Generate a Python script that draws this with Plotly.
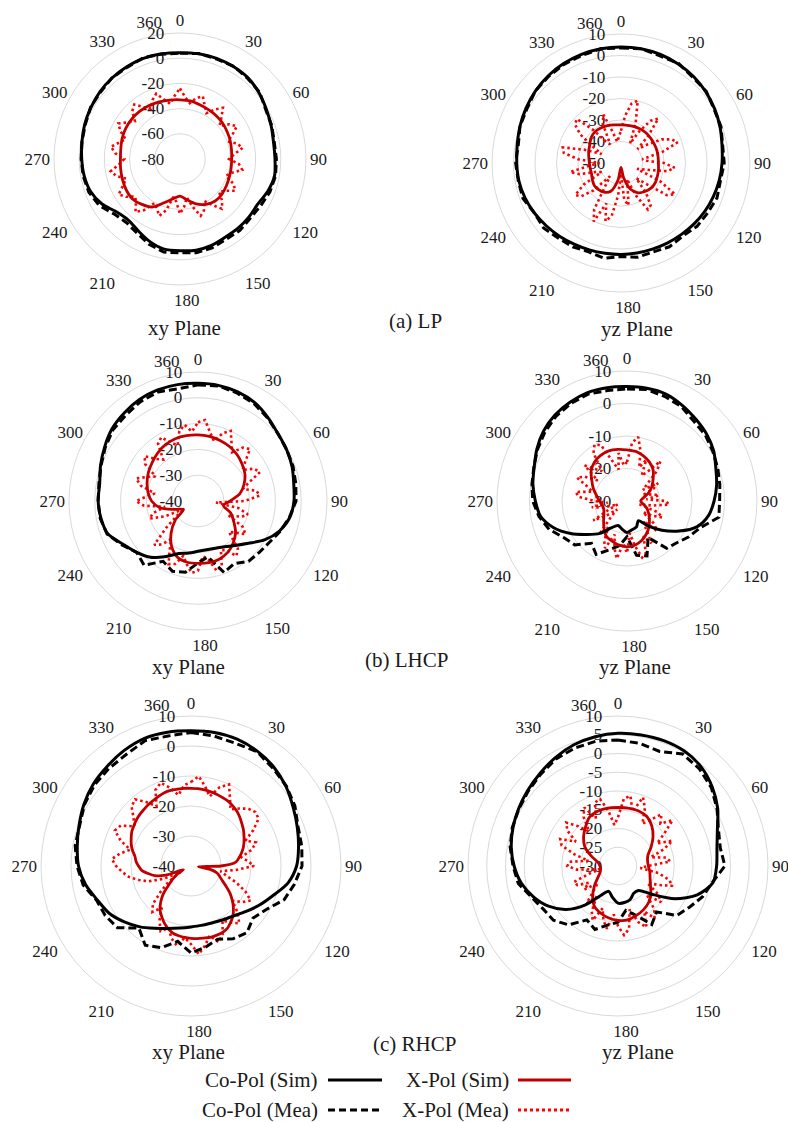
import plotly.graph_objects as go

W, H = 788, 1122
T10 = list(range(0, 360, 10))
T5 = list(range(0, 360, 5))

ANG_TICKS = [0, 30, 60, 90, 120, 150, 177, 210, 240, 270, 300, 330, 352]
ANG_TEXT = ["0", "30", "60", "90", "120", "150", "180", "210", "240", "270", "300", "330", "360"]

# ---------------- (a) LP, xy plane ----------------
A_XY_CO_SIM = [4.4, 4.8, 5, 4.7, 4, 1.8, -0.9, -3, -4.6, -4.6, -3.8, -5.7, -8.6, -8.5, -8.3, -8.3, -7, -6.5,
               -7.2, -7.4, -10.2, -14, -16.5, -14.5, -8.5, -4.5, -2.8, -2, -1, 0.5, 1.7, 3, 3.9, 4.5, 5, 4.8]
A_XY_CO_MEA = [4, 5, 4.5, 5, 3.5, 2.5, -1.5, -2.5, -4, -3.5, -3, -4, -6, -7, -6, -6.5, -5, -4.5,
               -5.5, -5, -8, -12, -14, -12, -6, -3, -2, -1.5, -1, 0, 2, 2.5, 4, 4, 5.5, 4.5]
A_XY_X_SIM = [-33, -33.2, -34.2, -34.8, -35.3, -35.8, -36.8, -37.6, -38.5, -39, -38.8, -38.3, -37.5, -36.5,
              -36.5, -38.5, -42, -47, -50.5, -48, -43, -36, -33, -30.7, -30.8, -31.5, -32.2, -32.7, -32.3,
              -31.2, -30.5, -30.3, -30.5, -31, -31.8, -32.5]
A_XY_X_MEA = [-24, -31, -35, -30, -27, -33.5, -38, -32, -27, -33.5, -39, -32, -28, -34, -39.5, -33, -29.5, -36.8,
              -41, -33, -29.8, -37.5, -41.3, -33, -29.5, -36, -39.5, -32.5, -28.5, -35.5, -41.5, -35, -32, -40.5,
              -49, -42, -36.5, -46, -49.5, -38, -32, -36.5, -39.5, -30.5, -25, -30.5, -33.7, -27.7, -23.8, -30.2,
              -34.5, -27.8, -24.2, -31.5, -35.7, -28.5, -24.3, -29.8, -34.2, -27.8, -23.5, -29.4, -33.3, -26.4,
              -23.5, -29.7, -34, -28.4, -24.8, -31.1, -35.5, -29.8]

# ---------------- (a) LP, yz plane ----------------
A_YZ_CO_SIM = [4, 4, 3.7, 3.2, 2.5, 1.5, 0.3, -1, -2.3, -3, -3.6, -4.3, -5, -5.8, -6.5, -7, -7.4, -7.5,
               -7.5, -7.4, -7, -6.4, -5.5, -4.6, -3.5, -2.5, -1.8, -1.5, -1, 0, 1, 2, 2.8, 3.4, 3.8, 4]
A_YZ_CO_MEA = [3.5, 4, 3, 3.5, 2, 1.8, 0, -0.5, -2, -2, -3, -2.5, -3.5, -4, -5.5, -5, -6, -5.5,
               -6.5, -5, -6, -5, -4.5, -3, -3.5, -1.5, -1.5, -1, -1.5, 0, 0.5, 2, 2.5, 3, 3.2, 4]
A_YZ_X_SIM = [-32.3, -32.2, -32, -31.8, -31.8, -32, -32.2, -32.3, -32.5, -32.6, -32.3, -32, -31.6, -31.8,
              -32.7, -34, -37, -43, -48, -42, -36, -34.3, -33.8, -33.8, -34.6, -35.4, -35.5, -35.3, -34.8,
              -34, -33.2, -31.8, -31.1, -31.2, -31.5, -32]
A_YZ_X_MEA = [-35, -28, -22, -20, -30, -40, -33, -26, -23, -32, -40, -35, -28, -24, -22, -30, -40, -38,
              -30, -25, -28, -38, -42, -30, -21, -24, -35, -40, -32, -26, -25, -33, -42, -38, -30, -33,
              -45, -35, -25, -22, -30, -20, -25, -38, -42, -32, -26, -24, -30, -40, -38, -30, -26, -35,
              -40, -30, -23, -22, -32, -40, -35, -27, -22, -21, -30, -38, -40, -30, -26, -35, -40, -38]

# ---------------- (b) LHCP, xy plane ----------------
B_XY_CO_SIM = [5.6, 5.5, 5, 4, 2.2, 0.5, -0.3, -1.2, -2.3, -2.8, -3.8, -6.3, -10, -14.5, -17.5, -19.5, -20.5,
               -20.8, -20.5, -19.5, -18.3, -15.2, -11.5, -9, -6.5, -2.8, -1.8, -1.3, -1.3, 0.2, 1.8, 3.5, 4.5,
               5.4, 5.8, 5.8]
B_XY_CO_MEA = [5, 5.3, 4.5, 3.5, 2, 0.5, -0.3, -0.8, -1.5, -2, -4, -6, -8, -9, -9.5, -12, -10.5, -18,
               -16, -12, -11, -13, -7.5, -9, -6, -2.5, -1.5, -1.3, -1, 0, 1.5, 3, 3.5, 4.5, 5, 4.2]
B_XY_X_SIM = [-14.4, -14.6, -15, -15.6, -16.5, -17.7, -19, -21, -23.5, -27.5, -30, -26.5, -24, -21, -18.8,
              -17, -16, -15.7, -15.8, -15.9, -16.8, -19.6, -23.8, -28.5, -33.5, -30.5, -25, -22, -20.3, -19,
              -17.8, -16.8, -15.7, -14.8, -14.3, -14.3]
B_XY_X_MEA = [-9.5, -8.5, -13, -16, -12, -10, -14, -17, -13, -11.5, -16, -19, -15, -13.5, -19, -22, -17, -16,
              -22, -33, -24, -20, -22, -27, -20, -17.5, -21, -23, -16, -14, -18, -19, -13, -12, -17, -18.5,
              -13, -12, -15, -18, -14, -13, -18, -22, -18, -16, -24, -30, -34, -26, -20, -22, -27, -19,
              -16, -20, -23, -17, -14.5, -18, -21, -15, -13, -17, -19, -13, -11.5, -15, -17, -12, -10, -13]

# ---------------- (b) LHCP, yz plane ----------------
B_YZ_CO_SIM = [5.2, 5.2, 5, 4, 2.9, 2, 0.8, -0.9, -2, -3.2, -4.5, -7, -11.5, -16, -20, -23, -21.5, -21,
               -20.3, -21.2, -22, -20.5, -17, -14, -10, -6, -3, -1.8, -0.6, 0.4, 2, 3.5, 4.5, 5.1, 5.5, 5.4]
B_YZ_CO_MEA = [4.5, 4.8, 4.2, 3.5, 2, 1.5, 0.5, -0.3, -1, -1.5, -1.3, -6, -8, -10, -11, -17, -12, -13,
               -19, -16, -14, -11, -13, -9, -7.5, -4.5, -2.5, -1, -0.3, 0.5, 1.8, 3, 4, 4.6, 5, 4.5]
B_YZ_X_SIM = [-14.3, -14.5, -15.2, -16.2, -17.5, -19.5, -21.2, -23, -25, -25.8, -25, -23.5, -22.3, -21,
              -19.5, -18.2, -17, -16.2, -15.9, -16.2, -16.8, -17.4, -19, -20.6, -21.8, -22.4, -22.3, -21.5,
              -20.5, -19, -17.5, -15.6, -14.4, -13.8, -13.6, -13.9]
B_YZ_X_MEA = [-18, -12, -10, -14, -19, -16, -21, -19, -14, -17, -22, -24, -19, -21, -25, -22, -20, -24,
              -18, -17, -22, -26, -20, -18, -21, -24, -19, -17, -22, -20, -15, -18, -13, -12, -16, -20,
              -14, -17, -12, -15, -19, -14, -16, -20, -17, -23, -26, -22, -18, -24, -27, -22, -19, -24,
              -20, -15, -14, -19, -17, -13, -15, -19, -13, -16, -18, -12, -10, -11, -17, -20, -15, -19]

# ---------------- (c) RHCP, xy plane ----------------
C_XY_CO_SIM = [5.1, 5.2, 5, 4.2, 3, 1.3, -0.7, -2.3, -3.6, -4.8, -7.2, -11, -13.8, -16.3, -18.2, -19.2, -19.8,
               -19.9, -19.7, -19, -17.8, -16, -13.5, -11, -8.5, -6.8, -4.3, -2.5, -1.5, -0.3, 1.2, 2.5, 3.4,
               4.5, 5.3, 5.3]
C_XY_CO_MEA = [4.5, 4, 3.5, 4, 2.5, 1.5, 0, -2, -2.5, -3, -5, -7, -11, -13, -11, -12, -14, -12.5,
               -11, -14.5, -11, -9.5, -13, -8, -7, -6.5, -3.5, -2, -0.8, -0.5, 1, 2, 2.5, 3, 4.5, 4]
C_XY_X_SIM = [-14.1, -14.1, -14.2, -14.4, -14.6, -14.9, -15.1, -15.6, -16.2, -17, -17.9, -18.7, -19.6, -20.5,
              -21.4, -22.5, -23.7, -25, -30, -37.5, -33.5, -31, -29.8, -28.5, -26.5, -24.1, -22, -20, -18.3,
              -17, -15.9, -15.5, -15.4, -15.4, -15.6, -15.7, -15.9, -16.1, -16.4, -16.8, -17.8, -19, -20.5,
              -22, -24.3, -27, -30.5, -32.8, -35, -37.2, -31, -27.5, -25.5, -23.5, -22.5, -21.6, -21, -19.8,
              -18.8, -18, -17.2, -16.7, -16.2, -15.8, -15.5, -15.1, -14.8, -14.4, -14, -13.9, -14, -14]
C_XY_X_MEA = [-12, -10, -13, -16, -12, -10, -14, -17, -15, -13, -12, -12.5, -16, -20, -17, -19, -23, -21,
              -19, -25, -30, -28, -24, -20, -17, -19, -22, -18, -15, -17, -19, -15, -13, -16, -13, -10.5,
              -14, -16, -13, -15, -18, -16, -19, -23, -20, -22, -27, -31, -36, -30, -25, -22, -19, -17,
              -15, -13.5, -16, -19, -15, -12, -13, -17, -15, -12, -11, -14, -17, -12, -10.5, -13, -16, -13]

# ---------------- (c) RHCP, yz plane ----------------
C_YZ_CO_SIM = [5.4, 5.5, 5.6, 5.4, 4.5, 2.8, 0.7, -1.8, -3.2, -3.7, -4.3, -7.5, -12.5, -18.3, -21.5, -21.6,
               -20.5, -20.1, -20.1, -21.5, -22.8, -21, -16.5, -12, -8.6, -6, -3.8, -2.3, -1.1, -0.2, 0.6, 1.4,
               2.3, 3.4, 4.4, 5]
C_YZ_CO_MEA = [3.6, 3.2, 2.5, 4.5, 3.8, 2.5, 0.5, -1.5, -2.3, -1.5, -4.5, -6, -8, -9.5, -14, -12, -16, -18,
               -15, -14, -12, -13.4, -9.5, -7.5, -7, -5.5, -3, -2, -0.8, 0, 0.5, 1.2, 2, 3, 3.5, 3.8]
C_YZ_X_SIM = [-14.4, -14.3, -14.3, -14.7, -16, -17.8, -19.8, -21.5, -22, -21.9, -21.4, -20.9, -20, -18.6,
              -17.3, -16.5, -15.9, -15.4, -15.5, -15.9, -16.6, -17.5, -19.5, -21.8, -23.8, -24.9, -25.3, -25.2,
              -24.6, -22.5, -19.8, -18, -16.5, -14.9, -14.4, -14.3]
C_YZ_X_MEA = [-17, -12, -11, -15, -10.5, -13, -17, -15, -12, -14, -11, -15, -18, -14, -17, -21, -17, -16,
              -22, -24, -19, -16, -14.5, -18, -21, -17, -15, -19, -15, -13, -16, -12, -14, -18, -13, -11.5,
              -14, -17, -13, -15, -18, -14, -16, -20, -17, -21, -23, -19, -21, -18, -17.5, -22, -25, -19,
              -16.5, -17, -22, -18, -14, -13, -17, -13.5, -12, -15, -18, -14, -12, -16, -12, -11.5, -15, -19]

# panel layout: (polar id, centre x, centre y, radius px, radial range, radial step, data, theta grid of X-Pol Sim)
PANELS = [
    ("polar", 180, 159, 126, (-80, 20), 20, (A_XY_CO_SIM, A_XY_CO_MEA, A_XY_X_SIM, A_XY_X_MEA), T10),
    ("polar2", 621, 163, 129, (-50, 10), 10, (A_YZ_CO_SIM, A_YZ_CO_MEA, A_YZ_X_SIM, A_YZ_X_MEA), T10),
    ("polar3", 198, 501, 129, (-40, 10), 10, (B_XY_CO_SIM, B_XY_CO_MEA, B_XY_X_SIM, B_XY_X_MEA), T10),
    ("polar4", 627, 501, 130, (-30, 10), 10, (B_YZ_CO_SIM, B_YZ_CO_MEA, B_YZ_X_SIM, B_YZ_X_MEA), T10),
    ("polar5", 191, 866, 150, (-40, 10), 10, (C_XY_CO_SIM, C_XY_CO_MEA, C_XY_X_SIM, C_XY_X_MEA), T5),
    ("polar6", 618, 866, 150, (-30, 10), 5, (C_YZ_CO_SIM, C_YZ_CO_MEA, C_YZ_X_SIM, C_YZ_X_MEA), T10),
]

FONT = "Liberation Serif, DejaVu Serif, Times New Roman, Times, serif"
TICK_PX = 17
STYLE = {
    "co_sim": dict(color="black", width=3, dash="solid"),
    "co_mea": dict(color="black", width=3, dash="8px,4px"),
    "x_sim": dict(color="#c00000", width=2.8, dash="solid"),
    "x_mea": dict(color="#ff0000", width=2.6, dash="2.5px,3px"),
}


def closed(theta, r):
    return list(theta) + [360], list(r) + [r[0]]


def radial_label(v):
    # labels are right-aligned a little to the left of the radial axis
    return str(v) + "\u00a0" * 3


fig = go.Figure()
layout = {}
for pid, cx, cy, rad, rng, step, (co_sim, co_mea, x_sim, x_mea), tx in PANELS:
    series = [
        (x_mea, T5, "x_mea", "linear"),
        (co_mea, T10, "co_mea", "linear"),
        (x_sim, tx, "x_sim", "spline"),
        (co_sim, T10, "co_sim", "spline"),
    ]
    for r, th, key, shape in series:
        tt, rr = closed(th, r)
        fig.add_trace(go.Scatterpolar(
            r=rr, theta=tt, mode="lines", subplot=pid, showlegend=False,
            line=dict(shape=shape, smoothing=0.8 if shape == "spline" else None, **STYLE[key]),
            hoverinfo="skip"))
    ticks = list(range(rng[0], rng[1] + 1, step))
    layout[pid] = dict(
        domain=dict(x=[(cx - rad) / W, (cx + rad) / W], y=[1 - (cy + rad) / H, 1 - (cy - rad) / H]),
        bgcolor="white",
        radialaxis=dict(range=list(rng), tickmode="array", tickvals=ticks,
                        ticktext=[radial_label(t) for t in ticks],
                        showline=False, gridcolor="#d9d9d9", gridwidth=1,
                        angle=90, side="counterclockwise", tickangle=90, ticks="",
                        tickfont=dict(family=FONT, size=TICK_PX, color="#1a1a1a"), layer="below traces"),
        angularaxis=dict(rotation=90, direction="clockwise", tickmode="array",
                         tickvals=ANG_TICKS, ticktext=ANG_TEXT, showgrid=False,
                         linecolor="#d9d9d9", linewidth=1, ticks="",
                         tickfont=dict(family=FONT, size=TICK_PX, color="#1a1a1a"), layer="below traces"),
    )

annotations = []
TITLES = [("xy Plane", 184, 328), ("(a) LP", 415, 321), ("yz Plane", 637, 329),
          ("xy Plane", 188, 667), ("(b) LHCP", 406, 660), ("yz Plane", 635, 667),
          ("xy Plane", 188, 1052), ("(c) RHCP", 414, 1044), ("yz Plane", 638, 1052)]
for txt, x, y in TITLES:
    annotations.append(dict(text=txt, x=x / W, y=1 - y / H, xref="paper", yref="paper",
                            showarrow=False, xanchor="center", yanchor="middle",
                            font=dict(family=FONT, size=21, color="#1a1a1a")))

# manual legend (text left of the line sample)
LEG = [("Co-Pol (Sim)", "co_sim", 320, 328, 382, 1080),
       ("Co-Pol (Mea)", "co_mea", 320, 328, 382, 1110),
       ("X-Pol (Sim)", "x_sim", 511, 518, 571, 1080),
       ("X-Pol (Mea)", "x_mea", 511, 518, 571, 1110)]
shapes = []
for txt, key, tx_right, x0, x1, y in LEG:
    annotations.append(dict(text=txt, x=tx_right / W, y=1 - y / H, xref="paper", yref="paper",
                            showarrow=False, xanchor="right", yanchor="middle",
                            font=dict(family=FONT, size=21, color="#1a1a1a")))
    st = STYLE[key]
    shapes.append(dict(type="line", xref="paper", yref="paper", x0=x0 / W, x1=x1 / W,
                       y0=1 - y / H, y1=1 - y / H,
                       line=dict(color=st["color"], width=3,
                                 dash={"co_mea": "7px,4px", "x_mea": "3px,3px"}.get(key, "solid"))))

fig.update_layout(width=W, height=H, margin=dict(l=0, r=0, t=0, b=0),
                  paper_bgcolor="white", plot_bgcolor="white", font=dict(family=FONT),
                  annotations=annotations, shapes=shapes, showlegend=False, **layout)

fig.write_html("out.html", config={"displayModeBar": False},
               post_script="document.body.style.margin='0';document.body.style.overflow='hidden';")
